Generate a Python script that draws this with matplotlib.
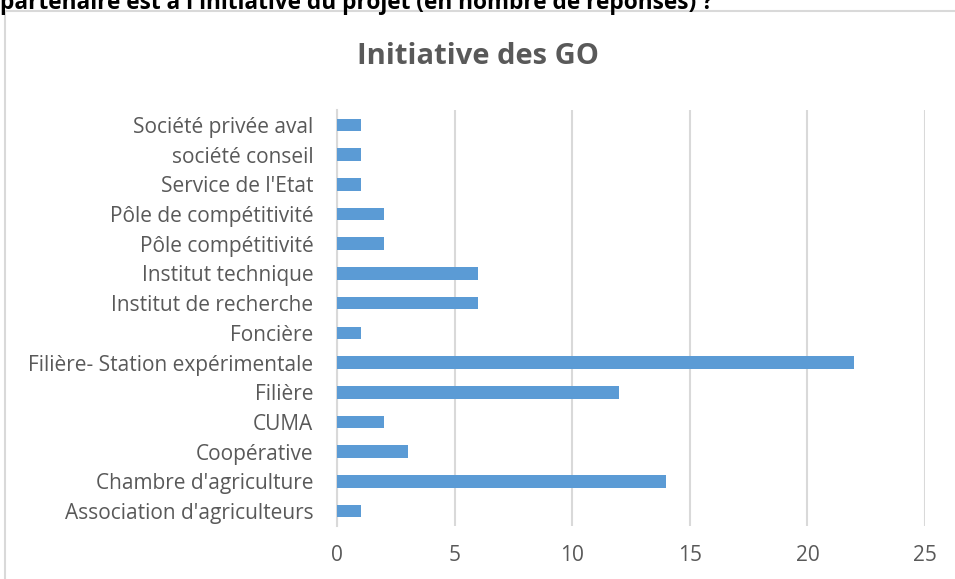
import matplotlib.pyplot as plt
from matplotlib.patches import Rectangle

categories = ["Association d'agriculteurs", "Chambre d'agriculture", "Coopérative", "CUMA",
              "Filière", "Filière- Station expérimentale", "Foncière", "Institut de recherche",
              "Institut technique", "Pôle compétitivité", "Pôle de compétitivité",
              "Service de l'Etat", "société conseil", "Société privée aval"]
values = [1, 14, 3, 2, 12, 22, 1, 6, 6, 2, 2, 1, 1, 1]
xticks = [0, 5, 10, 15, 20, 25]

plt.rcParams['font.family'] = ['Open Sans', 'DejaVu Sans']

fig = plt.figure(figsize=(9.55, 5.79), dpi=100)
# chart frame, runs past the right and bottom edges like the screenshot
fig.patches.append(Rectangle((5 / 955, -0.1), 1.2, 1.1 - 12 / 579 + 0.001,
                             transform=fig.transFigure, fill=False,
                             edgecolor='#d9d9d9', linewidth=1.5))
fig.text(0.0, 1 - 9 / 579, "partenaire est à l'initiative du projet (en nombre de réponses) ?",
         fontsize=16.3, fontweight='bold', color='black', ha='left', va='baseline')
fig.text(478 / 955, 1 - 57 / 579, "Initiative des GO", fontsize=21, fontweight='bold',
         color='#595959', ha='center', va='center')

ax = fig.add_axes([337 / 955, 1 - 526 / 579, (925 - 337) / 955, (526 - 110) / 579])
ax.barh(range(len(categories)), values, height=0.42, color='#5B9BD5', zorder=3)
ax.set_xlim(0, 25)
ax.set_ylim(-0.5, len(categories) - 0.5)
ax.set_xticks(xticks)
ax.set_yticks(range(len(categories)))
ax.set_yticklabels(categories)
ax.grid(axis='x', color='#d9d9d9', linewidth=1.5, zorder=0)
for s in ['top', 'right', 'bottom']:
    ax.spines[s].set_visible(False)
ax.spines['left'].set_color('#d9d9d9')
ax.spines['left'].set_linewidth(1.5)
ax.tick_params(length=0, labelsize=15, colors='#595959')
ax.tick_params(axis='y', pad=17)
ax.tick_params(axis='x', pad=14)

fig.savefig('out.png', dpi=100)
